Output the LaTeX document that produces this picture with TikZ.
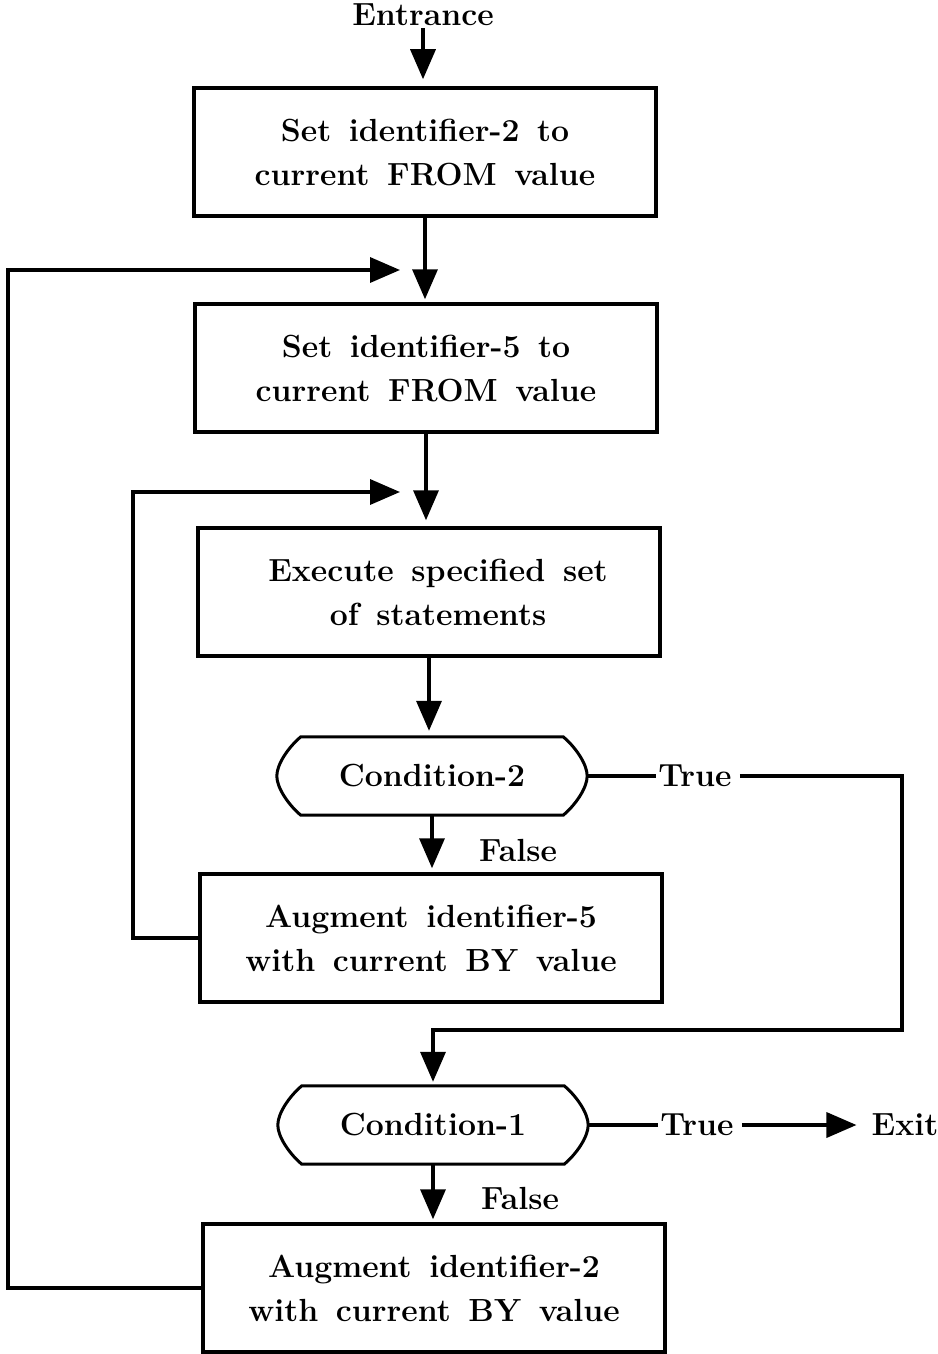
\documentclass[tikz,border=0pt]{standalone}
\usetikzlibrary{arrows.meta,calc}
\newcommand\lbl{\fontsize{32}{44}\selectfont\bfseries\spaceskip=0.55em plus 0.1em\relax}
\tikzset{
  box/.style={draw, line width=3.5pt, minimum width=462pt, minimum height=128pt, inner sep=0pt, align=center, font=\lbl},
  cond/.style={minimum width=310pt, minimum height=78pt, inner sep=0pt, font=\lbl},
  lab/.style={inner sep=2pt, font=\lbl},
  conn/.style={line width=3.5pt},
  arr/.style={conn, -{Triangle[length=30pt,width=25pt]}},
  condline/.style={line width=3pt},
}
\newcommand\condshape[1]{%
  \draw[condline] ($(#1.north west)+(24,0)$) -- ($(#1.north east)+(-24,0)$)
    .. controls ($(#1.north east)+(-12,10)$) and ($(#1.east)+(0,-12)$) .. (#1.east)
    .. controls ($(#1.east)+(0,12)$) and ($(#1.south east)+(-12,-10)$) .. ($(#1.south east)+(-24,0)$)
    -- ($(#1.south west)+(24,0)$)
    .. controls ($(#1.south west)+(12,-10)$) and ($(#1.west)+(0,12)$) .. (#1.west)
    .. controls ($(#1.west)+(0,-12)$) and ($(#1.north west)+(12,10)$) .. cycle;}
\begin{document}
\begin{tikzpicture}[x=1pt,y=-1pt]
\useasboundingbox (0,0) rectangle (937,1354);
\node[lab] (ent) at (423,15) {Entrance};
\node[box] (b1) at (425,152) {Set identifier-2 to\\current FROM value};
\node[box] (b2) at (426,368) {Set identifier-5 to\\current FROM value};
\node[box] (b3) at (429,592) {\hspace*{18pt}Execute specified set\\\hspace*{18pt}of statements};
\node[cond] (c2) at (432,776) {Condition-2};
\node[box] (b5) at (431,938) {Augment identifier-5\\with current BY value};
\node[cond] (c1) at (433,1125) {Condition-1};
\node[box] (b7) at (434,1288) {Augment identifier-2\\with current BY value};
\node[lab] (t2) at (695,776) {True};
\node[lab] (f2) at (518,850) {False};
\node[lab] (t1) at (697,1125) {True};
\node[lab] (f1) at (520,1198) {False};
\node[lab] (exit) at (905,1125) {Exit};
\condshape{c2}
\condshape{c1}
\coordinate (oL) at (8,270);
\coordinate (o1) at (400,270);
\coordinate (iL) at (133,492);
\coordinate (i1) at (400,492);
\coordinate (r2) at (902,776);
\coordinate (r3) at (902,1030);
% main flow
\draw[arr, shorten >=7pt] (ent.south) -- (ent.south |- b1.north);
\draw[arr, shorten >=3pt] (b1.south) -- (b1.south |- b2.north);
\draw[arr, shorten >=6pt] (b2.south) -- (b2.south |- b3.north);
\draw[arr, shorten >=6pt] (b3.south) -- (b3.south |- c2.north);
\draw[arr, shorten >=4pt] (c2.south) -- (c2.south |- b5.north);
\draw[arr, shorten >=3pt] (c1.south) -- (c1.south |- b7.north);
% loops
\draw[arr] (b7.west) -| (oL) -- (o1);
\draw[arr] (b5.west) -| (iL) -- (i1);
% true branches
\draw[conn] (c2.east) -- (t2.west);
\draw[arr, shorten >=4pt, shorten <=6pt] (t2.east) -- (r2) -- (r3) -| (c1.north);
\draw[conn] (c1.east) -- (t1.west);
\draw[arr, shorten >=13pt, shorten <=6pt] (t1.east) -- (exit.west);
\end{tikzpicture}
\end{document}
